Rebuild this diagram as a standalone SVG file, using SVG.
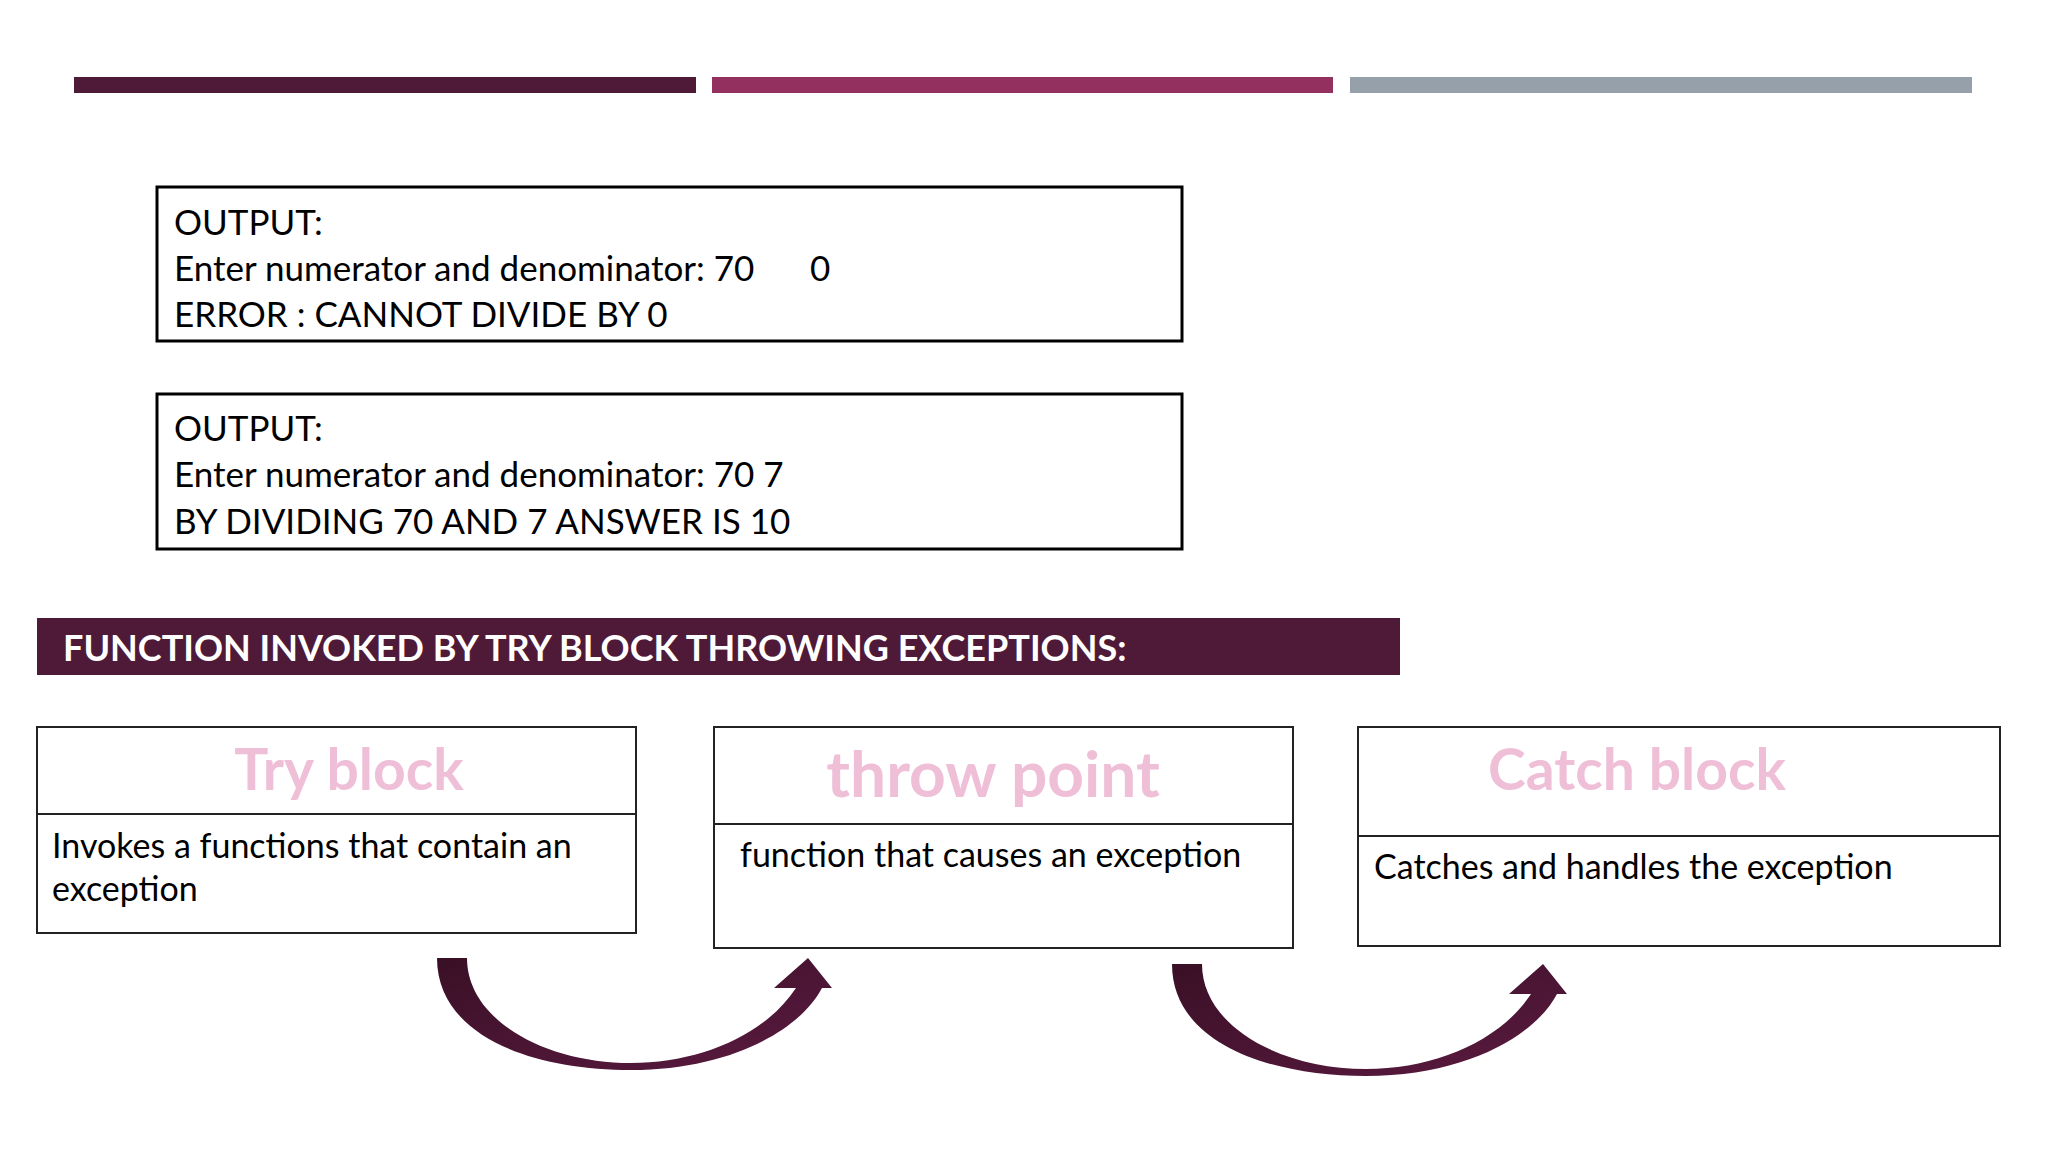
<svg xmlns="http://www.w3.org/2000/svg" width="2048" height="1152" viewBox="0 0 2048 1152">
<defs>
<linearGradient id="ag" x1="0" y1="0" x2="1" y2="1"><stop offset="0" stop-color="#3a1026"/><stop offset="1" stop-color="#5a1a40"/></linearGradient>
</defs>
<style>
.t{font-family:Lato,"Open Sans",sans-serif;fill:#000}
.out{font-size:35px}
.body{font-size:34px}
.ttl{font-family:Lato,"Open Sans",sans-serif;font-weight:bold;fill:#efbfd8;text-anchor:middle}
.box{fill:#fff;stroke:#000;stroke-width:3}
.nb{fill:#fff;stroke:#222;stroke-width:2}
</style>
<rect width="2048" height="1152" fill="#fff"/>
<g id="bars">
<rect x="74" y="77" width="622" height="16" fill="#4f1a38"/>
<rect x="712" y="77" width="621" height="16" fill="#93305f"/>
<rect x="1350" y="77" width="622" height="16" fill="#95a0aa"/>
</g>
<g id="output1">
<rect class="box" x="157" y="187" width="1025" height="154"/>
<text class="t out" x="174" y="235">OUTPUT:</text>
<text class="t out" x="174" y="281">Enter numerator and denominator: 70<tspan x="810">0</tspan></text>
<text class="t out" x="174" y="327">ERROR : CANNOT DIVIDE BY 0</text>
</g>
<g id="output2">
<rect class="box" x="157" y="394" width="1025" height="155"/>
<text class="t out" x="174" y="441">OUTPUT:</text>
<text class="t out" x="174" y="487">Enter numerator and denominator: 70 7</text>
<text class="t out" x="174" y="534">BY DIVIDING 70 AND 7 ANSWER IS 10</text>
</g>
<g id="banner">
<rect x="37" y="618" width="1363" height="57" fill="#4f1a38"/>
<text x="63" y="661" font-family="Lato,'Open Sans',sans-serif" font-weight="bold" font-size="36" fill="#fff">FUNCTION INVOKED BY TRY BLOCK THROWING EXCEPTIONS:</text>
</g>
<g id="try">
<rect class="nb" x="37" y="727" width="599" height="206"/>
<line x1="37" y1="814" x2="636" y2="814" stroke="#222" stroke-width="2"/>
<text class="ttl" x="349" y="790" font-size="57">Try block</text>
<text class="t body" x="52" y="858">Invokes a functions that contain an</text>
<text class="t body" x="52" y="901">exception</text>
</g>
<g id="throw">
<rect class="nb" x="714" y="727" width="579" height="221"/>
<line x1="714" y1="824" x2="1293" y2="824" stroke="#222" stroke-width="2"/>
<text class="ttl" x="993" y="797" font-size="64">throw point</text>
<text class="t body" x="740" y="867">function that causes an exception</text>
</g>
<g id="catch">
<rect class="nb" x="1358" y="727" width="642" height="219"/>
<line x1="1358" y1="836" x2="2000" y2="836" stroke="#222" stroke-width="2"/>
<text class="ttl" x="1637" y="790" font-size="57">Catch block</text>
<text class="t body" x="1374" y="879">Catches and handles the exception</text>
</g>
<g id="connectors">
<path id="arr" fill="url(#ag)" d="M437,958 C437,1035 530,1070 631,1070 C730,1070 800,1030 822,988 L832,988 L808,958 L774,988 L796,988 C765,1035 700,1063 631,1063 C545,1063 467,1020 467,958 Z"/>
<use href="#arr" transform="translate(735,6)"/>
</g>
</svg>
